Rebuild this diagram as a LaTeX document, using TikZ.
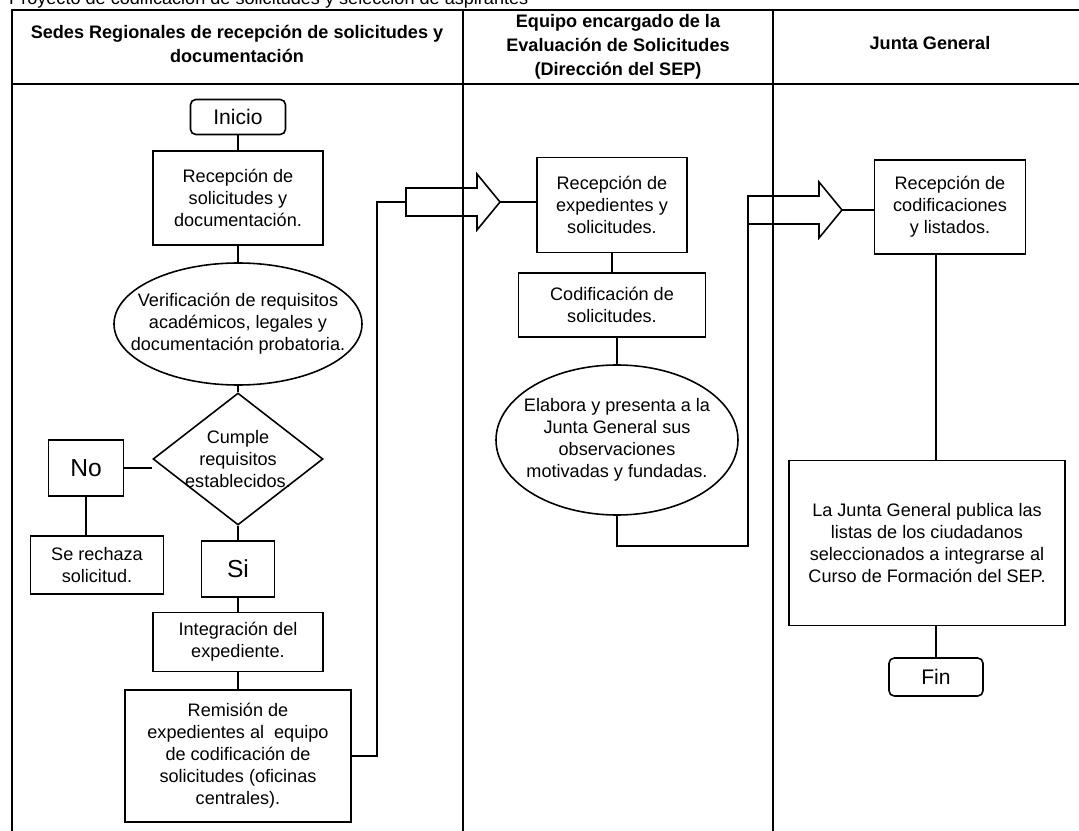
\documentclass[tikz,border=0pt]{standalone}
\usepackage{fontspec}
\setmainfont{Liberation Sans}
\usetikzlibrary{math,shapes.geometric}

\tikzset{
  every node/.style={font=\fontsize{10.3}{12.5}\selectfont},
  proc/.style={draw, line width=0.9pt, rectangle, align=center, inner sep=0pt},
  term/.style={proc, rounded corners=3pt, font=\fontsize{12}{14}\selectfont},
  oval/.style={draw, line width=0.9pt, ellipse, align=center, inner ysep=0pt},
  decis/.style={draw, line width=0.9pt, diamond, align=center, aspect=1.29, inner xsep=-2.3mm, inner ysep=0pt},
  big/.style={font=\fontsize{14}{16}\selectfont},
  headtxt/.style={align=center, font=\fontsize{10.3}{13.5}\selectfont\bfseries},
  lane/.style={line width=0.6pt},
  link/.style={line width=0.9pt},
  bigarrow/.style={line width=0.9pt}
}

\begin{document}
\begin{tikzpicture}[x=0.2mm, y=-0.2mm]

\tikzmath{
\ytop = 10;
\yhead = 84;
\ybot = 831;
\xright = 1079;
\xa = 12;
\xb = 463;
\xc = 773;
\shaft = 14;
\wing = 28;
\arrlen = 94;
\tiplen = 23;
}

\useasboundingbox (0,0) rectangle (\xright,\ybot);
\clip (0,0) rectangle (\xright,\ybot);

% title, cut by the page edge
\node[anchor=base west] (titulo) at (3,5) {Proyecto de codificación de solicitudes y selección de aspirantes};

% lanes
\draw[lane] (\xa,\ybot) -- (\xa,\ytop) -- (\xright,\ytop);
\draw[lane] (\xa,\yhead) -- (\xright,\yhead);
\foreach \x in {\xb, \xc}
    \draw[lane] (\x,\ytop) -- (\x,\ybot);

\node[headtxt] (hsedes) at (237,44) {Sedes Regionales de recepción de solicitudes y\\documentación};
\node[headtxt] (hequipo) at (618,47) {Equipo encargado de la\\Evaluación de Solicitudes\\(Dirección del SEP)};
\node[headtxt] (hjunta) at (930,43) {Junta General};

% block arrows between lanes
\foreach \n/\x/\y in {a1/406/202, a2/748/210}
{
   \draw[bigarrow] (\x,\y-\shaft) -- (\x+\arrlen-\tiplen,\y-\shaft) -- (\x+\arrlen-\tiplen,\y-\wing)
      -- (\x+\arrlen,\y) -- (\x+\arrlen-\tiplen,\y+\wing) -- (\x+\arrlen-\tiplen,\y+\shaft)
      -- (\x,\y+\shaft) -- cycle;
   \coordinate (\n-tail) at (\x,\y);
   \coordinate (\n-tip) at (\x+\arrlen,\y);
   \coordinate (\n-foot) at (\x,\y+\shaft);
}

% sedes regionales
\node[term, minimum width=19mm, minimum height=7mm] (inicio) at (238,117) {Inicio};
\node[proc, minimum width=34mm, minimum height=18.8mm] (recsol) at (238,198) {Recepción de\\solicitudes y\\documentación.};
\node[oval, minimum width=49.6mm, minimum height=24.4mm, inner xsep=-4.5mm] (verif) at (238,324) {Verificación de requisitos\\académicos, legales y\\documentación probatoria.};
\node[decis, minimum width=34mm, minimum height=26.4mm] (cumple) at (238,459) {Cumple\\requisitos\\establecidos.};
\node[proc, big, minimum width=15mm, minimum height=11.2mm] (no) at (86,468) {No};
\node[proc, minimum width=26.6mm, minimum height=11.6mm] (rechaza) at (97,565) {Se rechaza\\solicitud.};
\node[proc, big, minimum width=14.6mm, minimum height=11.2mm] (si) at (238,569) {Si};
\node[proc, minimum width=34mm, minimum height=11.8mm] (integra) at (238,642) {Integración del\\expediente.};
\node[proc, minimum width=45.2mm, minimum height=26.4mm] (remite) at (238,756) {Remisión de\\expedientes al\ \ equipo\\de codificación de\\solicitudes (oficinas\\centrales).};

% equipo de evaluacion
\node[proc, minimum width=30mm, minimum height=19mm] (recexp) at (612,205) {Recepción de\\expedientes y\\solicitudes.};
\node[proc, minimum width=37.4mm, minimum height=12.8mm] (codif) at (612,305) {Codificación de\\solicitudes.};
\node[oval, minimum width=48.4mm, minimum height=30mm, inner xsep=-2.5mm] (observa) at (617,440) {Elabora y presenta a la\\Junta General sus\\observaciones\\motivadas y fundadas.};

% junta general
\node[proc, minimum width=30.2mm, minimum height=18.8mm] (reccod) at (950,207) {Recepción de\\codificaciones\\y listados.};
\node[proc, minimum width=55.2mm, minimum height=33mm] (publica) at (927,543) {La Junta General publica las\\listas de los ciudadanos\\seleccionados a integrarse al\\Curso de Formación del SEP.};
\node[term, minimum width=18.8mm, minimum height=7.6mm] (fin) at (936,677) {Fin};

% connectors
\draw[link] (inicio) -- (recsol);
\draw[link] (recsol) -- (verif);
\draw[link] (verif) -- (cumple);
\draw[link] (no.east) -- (no.east -| cumple.west);
\draw[link] (no.south) -- (no.south |- rechaza.north);
\draw[link] (cumple) -- (si);
\draw[link] (si) -- (integra);
\draw[link] (integra) -- (remite);
\coordinate (bend) at (377,202);
\draw[link] (remite.east) -| (bend) -- (a1-tail);
\draw[link] (a1-tip) -- (a1-tip -| recexp.west);
\draw[link] (recexp) -- (codif);
\draw[link] (codif.south -| observa.north) -- (observa.north);
\coordinate (turn) at (748,546);
\draw[link] (observa.south) |- (turn) -- (a2-foot);
\draw[link] (a2-tip) -- (a2-tip -| reccod.west);
\draw[link] (fin.north |- reccod.south) -- (fin.north |- publica.north);
\draw[link] (fin.north |- publica.south) -- (fin.north);

\end{tikzpicture}
\end{document}
